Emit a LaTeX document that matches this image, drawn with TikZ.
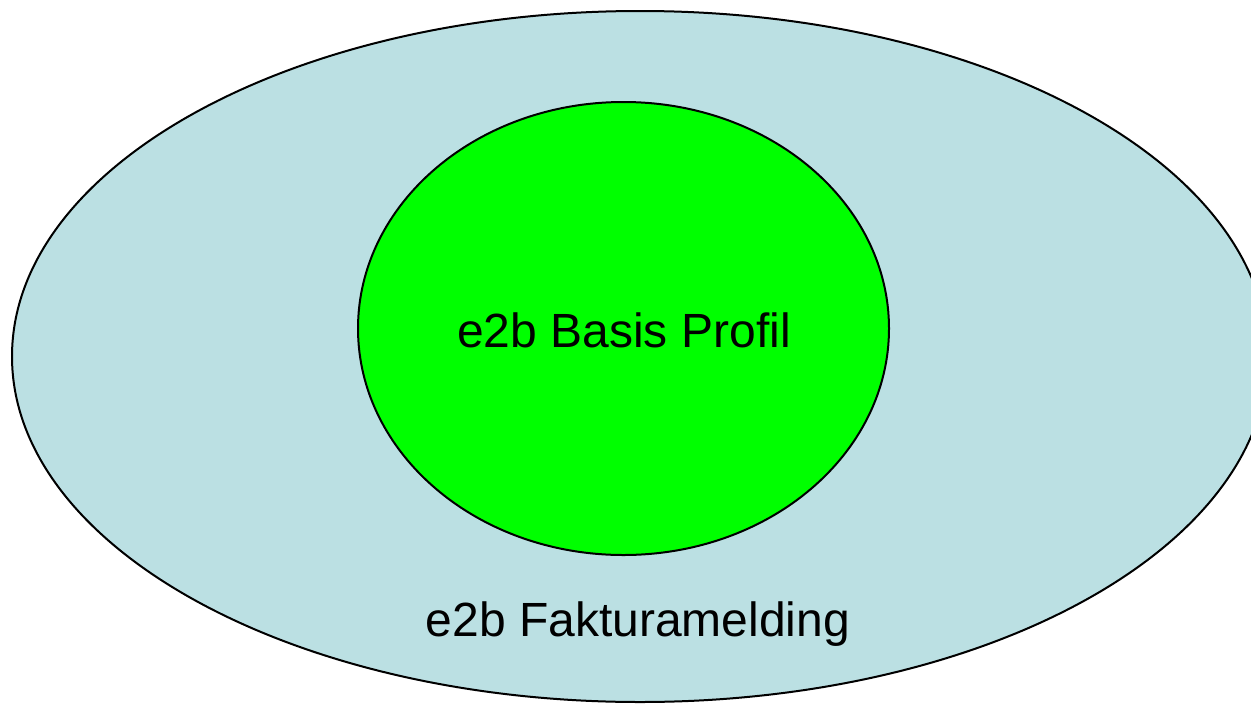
\documentclass[tikz,border=0pt]{standalone}
\usepackage{fontspec}
\setmainfont{Liberation Sans}
\definecolor{outerfill}{HTML}{BBE0E3}
\definecolor{innerfill}{HTML}{00FF00}
\begin{document}
\begin{tikzpicture}[x=0.75pt,y=-0.75pt,
  ring/.style={draw=black,line width=1.5pt},
  lbl/.style={inner sep=0pt,anchor=base,font=\fontsize{36}{40}\selectfont}]
\useasboundingbox (0,0) rectangle (1251,703);
\begin{scope}
\clip (0,0) rectangle (1251,703);
\path[ring,fill=outerfill] (640,356.5) ellipse [x radius=628, y radius=345.5];
\end{scope}
\path[ring,fill=innerfill] (623.5,328.5) ellipse [x radius=265.5, y radius=226.5];
\node[lbl] (inner) at (624,347.7) {e2b Basis Profil};
\node[lbl] (outer) at (638,636.7) {e2b Fakturamelding};
\end{tikzpicture}
\end{document}
